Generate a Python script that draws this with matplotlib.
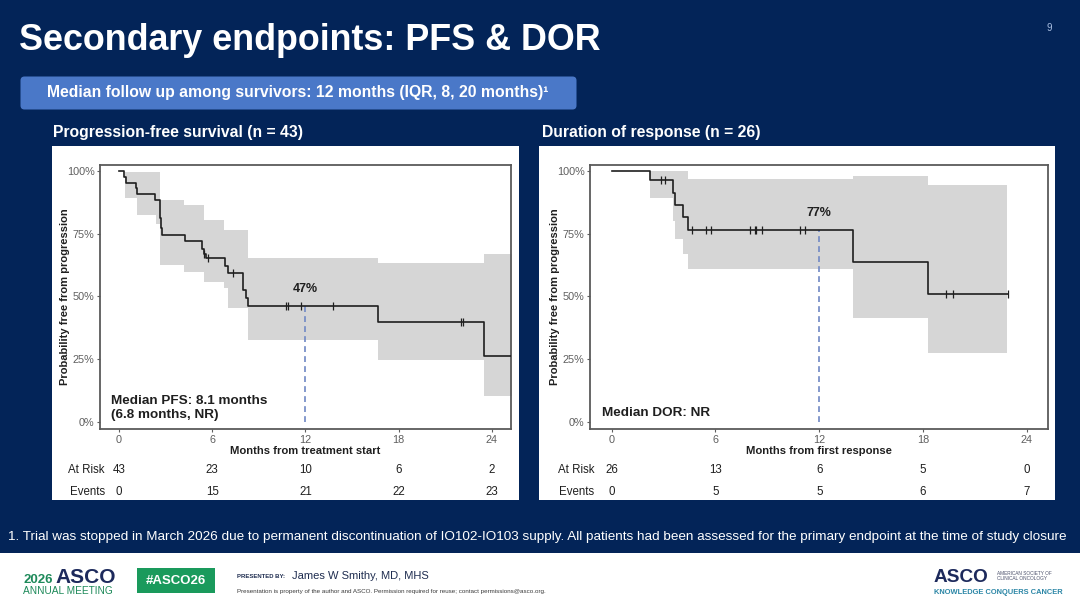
import numpy as np
import matplotlib.pyplot as plt
from matplotlib.patches import Rectangle, FancyBboxPatch

plt.rcParams['font.family'] = ['Liberation Sans', 'DejaVu Sans']

# ---- data ----
month_ticks = [0, 6, 12, 18, 24]
pct_ticks = [0, 0.25, 0.5, 0.75, 1.0]
pct_labels = ['0%', '25%', '50%', '75%', '100%']

# PFS Kaplan-Meier steps (months, survival)
pfs_t = [0, 0.32, 0.45, 1.07, 1.14, 2.32, 2.62, 2.70, 2.75, 4.25, 5.32, 5.45, 5.60,
         6.83, 7.04, 8.00, 8.15, 8.29, 16.7, 23.5, 25.3]
pfs_s = [1.0, 0.977, 0.953, 0.93, 0.907, 0.884, 0.81, 0.77, 0.744, 0.721, 0.69, 0.67,
         0.651, 0.62, 0.591, 0.525, 0.494, 0.463, 0.396, 0.263, 0.263]
pfs_cens = [5.5, 5.75, 7.36, 10.75, 10.9, 11.7, 13.76, 22.0, 22.15]
pfs_ci_t = [0.4, 1.14, 2.36, 2.64, 4.2, 5.47, 6.76, 7.04, 8.29, 16.7, 23.5, 25.3]
pfs_ci_hi = [0.996, 0.996, 0.996, 0.883, 0.863, 0.803, 0.764, 0.764, 0.653, 0.631, 0.667, 0.667]
pfs_ci_lo = [0.892, 0.823, 0.787, 0.624, 0.598, 0.558, 0.531, 0.455, 0.325, 0.246, 0.104, 0.104]
pfs_risk = [43, 23, 10, 6, 2]
pfs_events = [0, 15, 21, 22, 23]

# DOR Kaplan-Meier steps
dor_t = [0, 2.21, 3.56, 3.65, 4.13, 4.42, 13.94, 18.27, 22.9]
dor_s = [1.0, 0.962, 0.91, 0.863, 0.817, 0.764, 0.637, 0.509, 0.509]
dor_cens = [2.83, 3.1, 4.65, 5.48, 5.77, 7.98, 8.27, 8.37, 8.71, 10.9, 11.2, 19.33, 19.71, 22.9]
dor_ci_t = [2.21, 3.56, 3.65, 4.13, 4.42, 13.94, 18.27, 22.88]
dor_ci_hi = [1.0, 1.0, 1.0, 1.0, 0.969, 0.979, 0.943, 0.943]
dor_ci_lo = [0.89, 0.80, 0.73, 0.67, 0.607, 0.414, 0.275, 0.275]
dor_risk = [26, 13, 6, 5, 0]
dor_events = [0, 5, 5, 6, 7]

navy = '#032458'
ink = '#1f1f1f'
tick_gray = '#5f5f5f'


def surv_at(t, times, surv):
    i = np.searchsorted(times, t, side='right') - 1
    return np.asarray(surv)[i]


fig = plt.figure(figsize=(10.8, 6.08), dpi=100)
fig.patch.set_facecolor(navy)

# background layer in pixel coordinates
bg = fig.add_axes([0, 0, 1, 1])
bg.set_xlim(0, 1080)
bg.set_ylim(608, 0)
bg.axis('off')

bg.text(19, 50, 'Secondary endpoints: PFS & DOR', color='white', fontsize=25.8,
        fontweight='bold', va='baseline')
bg.text(1049, 28, '9', color='#a8bde0', fontsize=7, ha='center', va='center')

bg.add_patch(FancyBboxPatch((24, 80), 549, 26, boxstyle='round,pad=3.5,rounding_size=4',
                            fc='#4a78c8', ec='none'))
bg.text(47, 93, 'Median follow up among survivors: 12 months (IQR, 8, 20 months)\u00b9',
        color='white', fontsize=11.3, fontweight='bold', va='center')

bg.text(53, 132, 'Progression-free survival (n = 43)', color='white', fontsize=11.3,
        fontweight='bold', va='center')
bg.text(542, 132, 'Duration of response (n = 26)', color='white', fontsize=11.3,
        fontweight='bold', va='center')

bg.add_patch(Rectangle((52, 146), 467, 354, fc='white', ec='none'))
bg.add_patch(Rectangle((539, 146), 516, 354, fc='white', ec='none'))

bg.text(8, 537, '1. Trial was stopped in March 2026 due to permanent discontinuation of '
        'IO102-IO103 supply. All patients had been assessed for the primary endpoint at '
        'the time of study closure', color='white', fontsize=9.7, va='center')

# footer
bg.add_patch(Rectangle((0, 553), 1080, 56, fc='white', ec='none'))
bg.text(23, 583, '2026', color='#1e8a5a', fontsize=9.5, fontweight='bold', va='baseline')
bg.text(55, 583, 'ASCO', color='#1d2a5c', fontsize=15, fontweight='bold', va='baseline')
bg.text(23, 590.5, 'ANNUAL MEETING', color='#1e8a5a', fontsize=7.3, va='center')
bg.add_patch(Rectangle((137, 568), 78, 25, fc='#1a9a5c', ec='none'))
bg.text(176, 580.5, '#ASCO26', color='white', fontsize=9.5, fontweight='bold',
        ha='center', va='center')
bg.text(237, 576, 'PRESENTED BY:', color='#1f2d50', fontsize=4.3, fontweight='bold',
        va='center')
bg.text(292, 576, 'James W Smithy, MD, MHS', color='#1f2d50', fontsize=8, va='center')
bg.text(237, 591, 'Presentation is property of the author and ASCO. Permission required '
        'for reuse; contact permissions@asco.org.', color='#3a3a3a', fontsize=4.5,
        va='center')
bg.text(934, 582, 'ASCO', color='#1d2a5c', fontsize=13.7, fontweight='bold', va='baseline')
bg.text(997, 576, 'AMERICAN SOCIETY OF\nCLINICAL ONCOLOGY', color='#4a4f6a',
        fontsize=3.4, va='center', linespacing=1.2)
bg.text(934, 592, 'KNOWLEDGE CONQUERS CANCER', color='#2b86a6', fontsize=5.4,
        fontweight='bold', va='center')


def km_panel(rect, xlim, t, s, cens, ci_t, ci_lo, ci_hi, mark, mark_y, xlabel,
             median_txt, median_y, risk, events, lab_x, ylab_x):
    ax = fig.add_axes(rect)
    ax.fill_between(ci_t, ci_lo, ci_hi, step='post', color='#d6d6d6', lw=0, zorder=1)
    ax.step(t, s, where='post', color=ink, lw=1.2, zorder=3)
    ax.plot(cens, surv_at(cens, t, s), linestyle='none', marker='|', ms=5.5, mew=0.9,
            color=ink, zorder=3)
    ax.plot([12, 12], [0, surv_at(12, t, s)], color='#7088c4', lw=1.2,
            linestyle=(0, (3.5, 2.5)), zorder=2)
    ax.text(12, mark_y, mark, ha='center', va='center', fontsize=9, fontweight='bold',
            color=ink)
    ax.text(0.027, median_y, median_txt, transform=ax.transAxes, fontsize=9.7,
            fontweight='bold', color=ink, va='center', linespacing=1.25)
    ax.set_xlim(*xlim)
    ax.set_ylim(-0.029, 1.023)
    ax.set_xticks(month_ticks)
    ax.set_yticks(pct_ticks)
    ax.set_yticklabels(pct_labels)
    ax.tick_params(labelsize=7.8, colors=tick_gray, length=2, pad=2)
    for sp in ax.spines.values():
        sp.set_color('#5a5a5a')
        sp.set_linewidth(1.3)
    ax.set_ylabel('Probability free from progression', fontsize=8, fontweight='bold',
                  color=ink)
    ax.yaxis.set_label_coords(ylab_x, 0.5)
    ax.set_xlabel(xlabel, fontsize=8.1, fontweight='bold', color=ink, labelpad=2)
    ax.xaxis.set_label_coords(0.5, -0.065)
    # numbers at risk table
    for m, r, e in zip(month_ticks, risk, events):
        ax.text(m, -0.155, str(r), transform=ax.get_xaxis_transform(), ha='center',
                va='center', fontsize=8.3, color=ink, clip_on=False)
        ax.text(m, -0.24, str(e), transform=ax.get_xaxis_transform(), ha='center',
                va='center', fontsize=8.3, color=ink, clip_on=False)
    ax.text(lab_x, -0.155, 'At Risk', transform=ax.transAxes, ha='right', va='center',
            fontsize=8.3, color=ink)
    ax.text(lab_x, -0.24, 'Events', transform=ax.transAxes, ha='right', va='center',
            fontsize=8.3, color=ink)
    return ax


km_panel([100 / 1080, 1 - 429 / 608, 410.7 / 1080, 264 / 608], (-1.22, 25.21),
         pfs_t, pfs_s, pfs_cens, pfs_ci_t, pfs_ci_lo, pfs_ci_hi, '47%', 0.528,
         'Months from treatment start', 'Median PFS: 8.1 months\n(6.8 months, NR)', 0.079,
         pfs_risk, pfs_events, 0.012, -0.073)
km_panel([590 / 1080, 1 - 429 / 608, 458.3 / 1080, 264 / 608], (-1.25, 25.24),
         dor_t, dor_s, dor_cens, dor_ci_t, dor_ci_lo, dor_ci_hi, '77%', 0.83,
         'Months from first response', 'Median DOR: NR', 0.062,
         dor_risk, dor_events, 0.009, -0.066)

fig.savefig('out.png', dpi=100, facecolor=fig.get_facecolor())
